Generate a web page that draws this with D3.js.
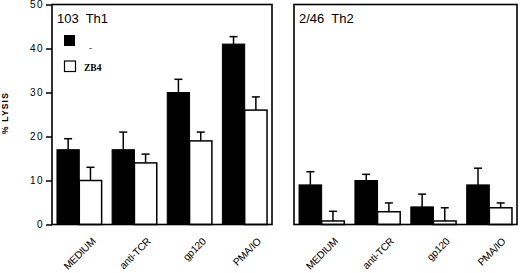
<!DOCTYPE html>
<html>
<head>
<meta charset="utf-8">
<script src="https://cdn.jsdelivr.net/npm/d3@7"></script>
<style>
  body { margin: 0; background: #fff; }
  svg { display: block; }
  text { font-family: "Liberation Sans", Arial, sans-serif; fill: #000; }
</style>
</head>
<body>
<div id="chart"></div>
<script>
var categories = ["MEDIUM", "anti-TCR", "gp120", "PMA/IO"];
var yTicks = [0, 10, 20, 30, 40, 50];

// Th1 clone 103
var th1Control = [17, 17, 30, 41];
var th1ControlErr = [2.5, 4, 3, 1.7];
var th1ZB4 = [10, 14, 19, 26];
var th1ZB4Err = [3, 2, 2, 3];

// Th2 clone 2/46
var th2Control = [9, 10, 4, 9];
var th2ControlErr = [3, 1.4, 2.9, 3.8];
var th2ZB4 = [0.8, 2.9, 0.8, 3.8];
var th2ZB4Err = [2.2, 2, 3, 1.1];

var width = 520, height = 273;

var svg = d3.select("#chart").append("svg")
    .attr("width", width)
    .attr("height", height);

var y = d3.scaleLinear()
    .domain([0, 50])
    .range([224.5, 4.5]);

function drawPanel(x0, x1, title, control, controlErr, zb4, zb4Err, showAxis, legend) {
  var x = d3.scaleBand()
      .domain(categories)
      .range([x0, x1])
      .paddingInner(0.19)
      .paddingOuter(0.09);

  var g = svg.append("g");
  var bw = x.bandwidth() / 2;

  var rows = categories.map(function(c, i) {
    return {cat: c, ctl: control[i], ctlErr: controlErr[i], zb: zb4[i], zbErr: zb4Err[i]};
  });

  // error bars first so bars sit on top
  function errBars(cls, off, val, err) {
    g.selectAll("." + cls + "-stem")
      .data(rows)
      .enter().append("line")
        .attr("x1", function(d) { return x(d.cat) + off + bw / 2; })
        .attr("x2", function(d) { return x(d.cat) + off + bw / 2; })
        .attr("y1", function(d) { return y(d[val]); })
        .attr("y2", function(d) { return y(d[val] + d[err]); })
        .attr("stroke", "#000")
        .attr("stroke-width", 1.5);
    g.selectAll("." + cls + "-cap")
      .data(rows)
      .enter().append("line")
        .attr("x1", function(d) { return x(d.cat) + off + bw / 2 - 4; })
        .attr("x2", function(d) { return x(d.cat) + off + bw / 2 + 4; })
        .attr("y1", function(d) { return y(d[val] + d[err]); })
        .attr("y2", function(d) { return y(d[val] + d[err]); })
        .attr("stroke", "#000")
        .attr("stroke-width", 1.5);
  }
  errBars("ctl", 0, "ctl", "ctlErr");
  errBars("zb", bw, "zb", "zbErr");

  g.selectAll(".bar-ctl")
    .data(rows)
    .enter().append("rect")
      .attr("x", function(d) { return x(d.cat); })
      .attr("width", bw)
      .attr("y", function(d) { return y(d.ctl); })
      .attr("height", function(d) { return y(0) - y(d.ctl); })
      .attr("fill", "#000")
      .attr("stroke", "#000")
      .attr("stroke-width", 1);

  g.selectAll(".bar-zb")
    .data(rows)
    .enter().append("rect")
      .attr("x", function(d) { return x(d.cat) + bw; })
      .attr("width", bw)
      .attr("y", function(d) { return y(d.zb); })
      .attr("height", function(d) { return y(0) - y(d.zb); })
      .attr("fill", "#fff")
      .attr("stroke", "#000")
      .attr("stroke-width", 1.5);

  // frame
  g.append("rect")
    .attr("x", x0)
    .attr("y", y(50))
    .attr("width", x1 - x0)
    .attr("height", y(0) - y(50))
    .attr("fill", "none")
    .attr("stroke", "#000")
    .attr("stroke-width", 1.6);

  if (showAxis) {
    var ax = g.append("g")
        .attr("transform", "translate(" + x0 + ",0)")
        .call(d3.axisLeft(y).tickValues(yTicks).tickSize(6).tickPadding(2));
    ax.select(".domain").remove();
    ax.selectAll("line").attr("stroke", "#000").attr("stroke-width", 1.5);
    ax.selectAll("text")
      .style("font-family", "'Liberation Sans', Arial, sans-serif")
      .style("font-size", "10px")
      .style("letter-spacing", "1.5px")
      .attr("fill", "#000");
  }

  // category labels
  g.selectAll(".xlab")
    .data(categories)
    .enter().append("text")
      .attr("transform", function(d) {
        return "translate(" + (x(d) + x.bandwidth() / 2 + 17) + ",242) rotate(-45)";
      })
      .attr("text-anchor", "end")
      .style("font-size", "10.2px")
      .style("letter-spacing", "-0.2px")
      .text(function(d) { return d; });

  g.append("text")
    .attr("x", x0 + 5)
    .attr("y", 22.5)
    .style("font-size", "13px")
    .style("white-space", "pre")
    .text(title);

  if (legend) {
    g.append("rect")
      .attr("x", x0 + 12).attr("y", 35)
      .attr("width", 11).attr("height", 11)
      .attr("fill", "#000");
    g.append("text")
      .attr("x", x0 + 37).attr("y", 51)
      .style("font-family", "'Liberation Serif', serif")
      .style("font-size", "9px")
      .text("-");
    g.append("rect")
      .attr("x", x0 + 12.5).attr("y", 61)
      .attr("width", 11).attr("height", 10.5)
      .attr("fill", "#fff")
      .attr("stroke", "#000")
      .attr("stroke-width", 1.2);
    g.append("text")
      .attr("x", x0 + 32).attr("y", 71)
      .style("font-family", "'Liberation Serif', serif")
      .style("font-size", "9.5px")
      .style("font-weight", "bold")
      .text("ZB4");
  }
}

drawPanel(52, 272, "103  Th1", th1Control, th1ControlErr, th1ZB4, th1ZB4Err, true, true);
drawPanel(294, 517, "2/46  Th2", th2Control, th2ControlErr, th2ZB4, th2ZB4Err, false, false);

// y axis title
svg.append("text")
  .attr("transform", "translate(8,113) rotate(-90)")
  .attr("text-anchor", "middle")
  .style("font-size", "8.5px")
  .style("font-weight", "bold")
  .style("letter-spacing", "1.2px")
  .text("% LYSIS");
</script>
</body>
</html>
